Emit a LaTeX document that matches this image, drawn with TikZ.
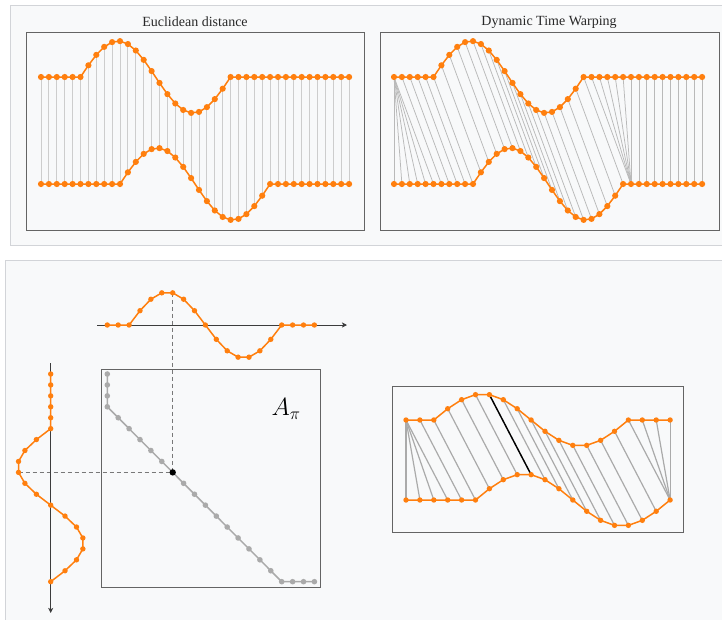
\documentclass[tikz,border=0pt]{standalone}
\usepackage{fontspec}
\setmainfont{Liberation Serif}
\usepackage{tikz}
\usetikzlibrary{arrows.meta}
\definecolor{dtworange}{RGB}{255,127,14}
\definecolor{panelbg}{RGB}{248,249,250}
\definecolor{panelline}{RGB}{210,212,216}
\definecolor{framegray}{RGB}{100,100,100}
\definecolor{linkgray}{RGB}{205,205,205}
\definecolor{warpgray}{RGB}{185,185,185}
\definecolor{pathgray}{RGB}{170,170,170}
\definecolor{axisgray}{RGB}{60,60,60}
\definecolor{guidegray}{RGB}{120,120,120}
\definecolor{titlegray}{RGB}{40,40,40}
\tikzset{
  panel/.style={fill=panelbg, draw=panelline, line width=0.9pt},
  frame/.style={draw=framegray, line width=1pt},
  title/.style={font=\fontsize{14}{16}\selectfont, text=titlegray},
  sig/.style={draw=dtworange, line width=1.5pt, line join=round},
  odot/.style={circle, fill=dtworange, inner sep=0pt, minimum size=6.2pt},
  sdot/.style={circle, fill=dtworange, inner sep=0pt, minimum size=5.4pt},
  gdot/.style={circle, fill=pathgray, inner sep=0pt, minimum size=5.6pt},
  match/.style={draw=linkgray, line width=0.9pt},
  warp/.style={draw=warpgray, line width=0.75pt},
  warpb/.style={draw=pathgray, line width=1.2pt},
  bestlink/.style={draw=black, line width=1.4pt},
  pathline/.style={draw=pathgray, line width=1.5pt},
  axisarr/.style={draw=axisgray, line width=0.9pt, -{Stealth[length=5pt,width=5pt,inset=1.2pt]}},
  guide/.style={draw=guidegray, line width=0.9pt, dash pattern=on 4pt off 3pt},
}
\def\warppath{0/0,0/1,0/2,0/3,1/4,2/5,3/6,4/7,5/8,6/9,7/10,8/11,9/12,10/13,11/14,12/15,13/16,14/17,15/18,16/19,17/19,18/19,19/19}

\begin{document}
\begin{tikzpicture}[x=1pt,y=-1pt]
  \useasboundingbox (0,0) rectangle (722,619);
  \fill[white] (0,0) rectangle (722,619);
  \draw[panel] (10,5) rectangle (740,245);
  \draw[panel] (5,260) rectangle (740,640);

  % top panel
  \node[title] (eutitle) at (195,22) {Euclidean distance};
  \node[title] (dtwtitle) at (549,22) {Dynamic Time Warping};
  \draw[frame] (26,32) rectangle (364,230);
  \draw[frame] (380,32) rectangle (719,230);

  \foreach \k in {0,...,39}{
    \pgfmathsetmacro\ya{77-(\k>=5)*(\k<=24)*36*sin(360*(\k-5)/19)}
    \pgfmathsetmacro\yb{184-(\k>=10)*(\k<=29)*36*sin(360*(\k-10)/19)}
    \coordinate (ea\k) at (41+7.9*\k,\ya);
    \coordinate (eb\k) at (41+7.9*\k,\yb);
    \coordinate (da\k) at (394+7.9*\k,\ya);
    \coordinate (db\k) at (394+7.9*\k,\yb);
  }
  \foreach \k in {0,...,39} \draw[match] (ea\k) -- (eb\k);
  \foreach \j in {0,...,5} \draw[warp] (da0) -- (db\j);
  \foreach \k in {1,...,24}{
    \pgfmathtruncatemacro\j{\k+5}
    \draw[warp] (da\k) -- (db\j);
  }
  \foreach \k in {25,...,30} \draw[warp] (da\k) -- (db30);
  \foreach \k in {31,...,39} \draw[warp] (da\k) -- (db\k);
  \foreach \s in {ea,eb,da,db}{
    \draw[sig] (\s0) \foreach \k in {1,...,39}{ -- (\s\k)};
    \foreach \k in {0,...,39} \node[odot] at (\s\k) {};
  }

  % bottom panel
  \coordinate (haxstart) at (97,325);
  \coordinate (haxend) at (347,325);
  \coordinate (vaxstart) at (50.7,363);
  \coordinate (vaxend) at (50.7,613);
  \draw[frame] (101.7,369) rectangle (320.7,587.3);
  \node (apilabel) at (286,409) {\fontsize{25}{27}\selectfont $A_\pi$};
  \draw[frame] (392.3,386) rectangle (683.3,532.7);

  \foreach \k in {0,...,19}{
    \pgfmathsetmacro\wh{(\k>=2)*(\k<=16)*sin(360*(\k-2)/14)}
    \pgfmathsetmacro\wv{(\k>=5)*sin(360*(\k-5)/14)}
    \coordinate (hx\k) at (107.3+10.9*\k,325-33*\wh);
    \coordinate (vy\k) at (50.7-33*\wv,374+10.93*\k);
    \coordinate (rt\k) at (406+13.9*\k,420-26*\wh);
    \coordinate (rb\k) at (406+13.9*\k,500-26*\wv);
  }
  \foreach \i/\j in \warppath \coordinate (m\i-\j) at (hx\i |- vy\j);

  \draw[guide] (hx6) -- (m6-9);
  \draw[guide] (vy9) -- (m6-9);
  \draw[axisarr] (haxstart) -- (haxend);
  \draw[axisarr] (vaxstart) -- (vaxend);

  \draw[pathline] (m0-0) \foreach \i/\j in \warppath { -- (m\i-\j)};
  \foreach \i/\j in \warppath \node[gdot] at (m\i-\j) {};
  \node[circle, fill=black, inner sep=0pt, minimum size=6.4pt] (bestcell) at (m6-9) {};

  \foreach \i/\j in \warppath \draw[warpb] (rt\i) -- (rb\j);
  \draw[bestlink] (rt6) -- (rb9);

  \foreach \s in {hx,vy,rt,rb}{
    \draw[sig] (\s0) \foreach \k in {1,...,19}{ -- (\s\k)};
    \foreach \k in {0,...,19} \node[sdot] at (\s\k) {};
  }
\end{tikzpicture}
\end{document}
